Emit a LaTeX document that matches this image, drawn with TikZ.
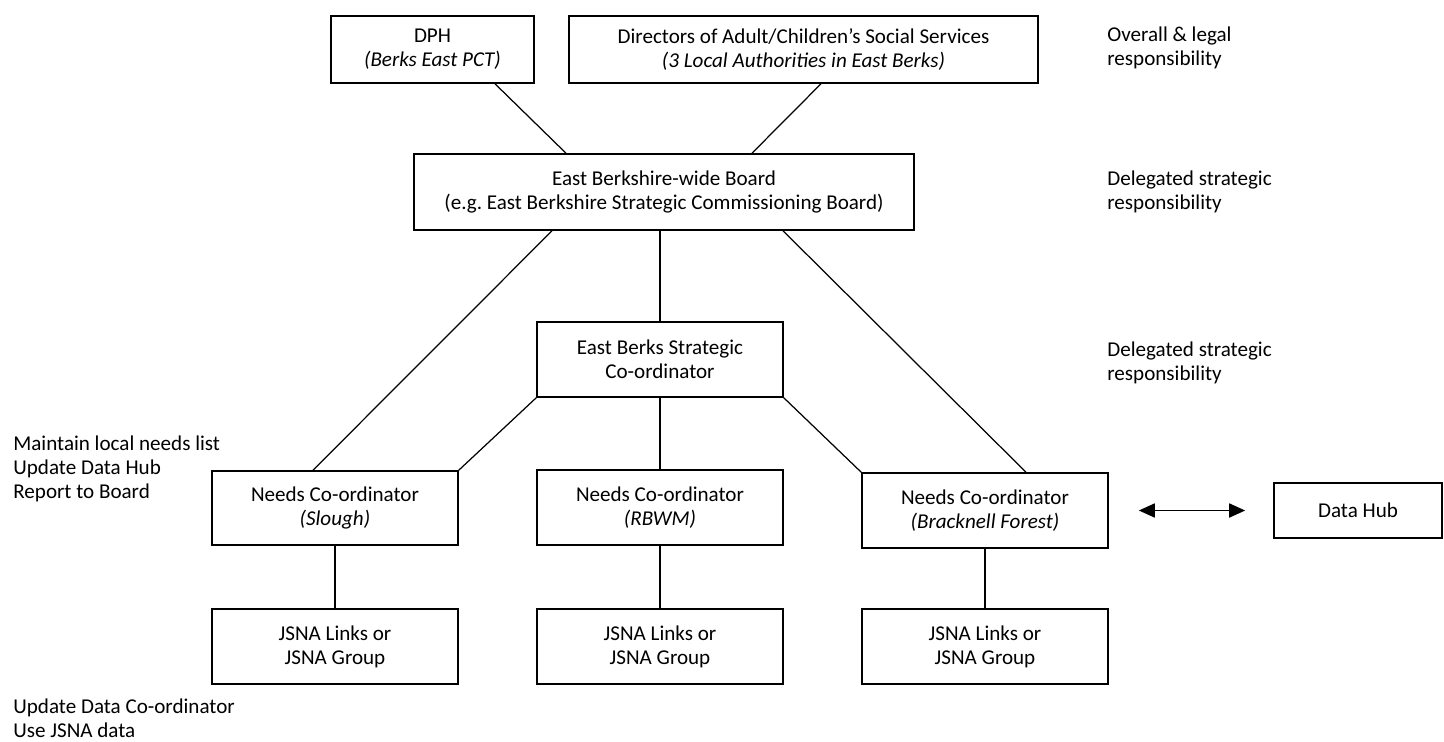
\documentclass[tikz,border=0pt]{standalone}
\usepackage{fontspec}
\setmainfont{Carlito}
\usetikzlibrary{calc,arrows.meta}
\frenchspacing

\begin{document}
\begin{tikzpicture}[
    every node/.style={font=\fontsize{12}{13.6}\selectfont},
    unit/.style={draw, line width=0.9pt, align=center, minimum width=4.92cm, minimum height=1.5cm, inner sep=0pt},
    note/.style={anchor=west, align=left, inner sep=0pt},
    link/.style={line width=0.7pt}
]
\useasboundingbox (0,0) rectangle (28.88,-14.84);

% Top level
\node[unit, minimum width=4.06cm, minimum height=1.34cm] (dph) at (8.65,-0.99)
{DPH\\\textit{(Berks East PCT)}};
\node[unit, minimum width=9.38cm, minimum height=1.34cm] (dirs) at (16.07,-0.99)
{Directors of Adult/Children’s Social Services\\\textit{(3 Local Authorities in East Berks)}};

% Board and strategic co-ordinator
\node[unit, minimum width=10cm, minimum height=1.52cm] (board) at (13.28,-3.84)
{East Berkshire-wide Board\\(e.g.\ East Berkshire Strategic Commissioning Board)};
\node[unit] (strat) at (13.2,-7.19) {East Berks Strategic\\Co-ordinator};

% Needs co-ordinators
\node[unit, minimum height=1.48cm] (slough) at (6.7,-10.16) {Needs Co-ordinator\\\textit{(Slough)}};
\node[unit] (rbwm) at (13.2,-10.15) {Needs Co-ordinator\\\textit{(RBWM)}};
\node[unit] (bfc) at (19.7,-10.21) {Needs Co-ordinator\\\textit{(Bracknell Forest)}};
\node[unit, minimum width=3.36cm, minimum height=1.1cm] (hub) at (27.16,-10.21) {Data Hub};

% JSNA links
\node[unit] (jslough) at (6.7,-12.93) {JSNA Links or\\JSNA Group};
\node[unit] (jrbwm) at (13.2,-12.93) {JSNA Links or\\JSNA Group};
\node[unit] (jbfc) at (19.7,-12.93) {JSNA Links or\\JSNA Group};

% Side notes
\node[note] (overall) at (22.14,-0.95) {Overall \& legal\\responsibility};
\node[note] (deleg1) at (22.14,-3.83) {Delegated strategic\\responsibility};
\node[note] (deleg2) at (22.14,-7.25) {Delegated strategic\\responsibility};
\node[note] (tasks) at (0.26,-9.38) {Maintain local needs list\\Update Data Hub\\Report to Board};
\node[note] (jtasks) at (0.26,-14.36) {Update Data Co-ordinator\\Use JSNA data};

% Lines
\draw[link] ([xshift=1.25cm]dph.south) -- ([xshift=-1.96cm]board.north);
\draw[link] ([xshift=0.35cm]dirs.south) -- ([xshift=1.76cm]board.north);
\draw[link] ([xshift=-2.24cm]board.south) -- ([xshift=-0.44cm]slough.north);
\draw[link] ([xshift=2.38cm]board.south) -- ([xshift=0.82cm]bfc.north);
\draw[link] (strat.north |- board.south) -- (strat.north);
\draw[link] (strat.south west) -- (slough.north east);
\draw[link] (strat.south) -- (rbwm.north);
\draw[link] (strat.south east) -- (bfc.north west);
\draw[link] (slough.south) -- (jslough.north);
\draw[link] (rbwm.south) -- (jrbwm.north);
\draw[link] (bfc.south) -- (jbfc.north);
\draw[line width=1pt, {Triangle[length=0.32cm,width=0.28cm]}-{Triangle[length=0.32cm,width=0.28cm]},
    shorten <=0.6cm, shorten >=0.56cm] (bfc.east) -- (hub.west);

\end{tikzpicture}
\end{document}
